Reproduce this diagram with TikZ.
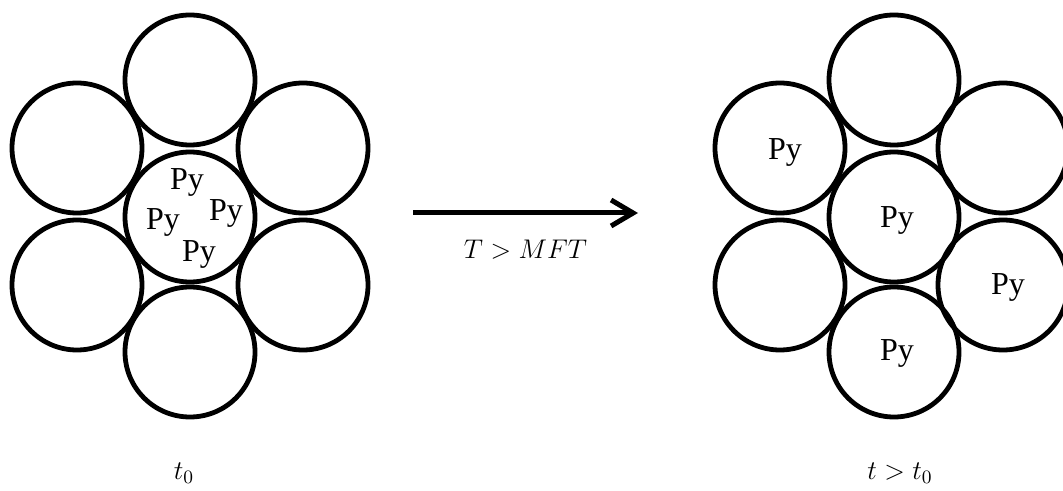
\RequirePackage{fix-cm}
\documentclass[tikz,border=0pt]{standalone}
\usepackage{fontspec}
\setmainfont{Liberation Serif}
\usetikzlibrary{arrows.meta, positioning}

\begin{document}
\begin{tikzpicture}[x=0.5pt, y=-0.5pt, >={Straight Barb[length=11pt, width=13pt]},
    pore/.style={draw, circle, line width=2.4pt, minimum size=65pt, inner sep=0pt},
    py/.style={font=\rmfamily\fontsize{16}{19}\selectfont, inner sep=0pt},
    lab/.style={font=\fontsize{13.5}{16}\selectfont}]
      \useasboundingbox (0,0) rectangle (1063,491);

      % before heating
      \node[pore] (l0) at (190,217) {};
      \node[pore] (l1) at (190,80) {};
      \node[pore] (l2) at (77,148) {};
      \node[pore] (l3) at (303,148) {};
      \node[pore] (l4) at (77,285) {};
      \node[pore] (l5) at (303,285) {};
      \node[pore] (l6) at (190,352) {};
      \node[py] at (187,182) {Py};
      \node[py] at (163,222) {Py};
      \node[py] at (226,213) {Py};
      \node[py] at (199,254) {Py};
      \node[lab] (tl) at (184,473) {$t_{0}$};

      % after heating
      \node[pore] (r0) at (894,217) {};
      \node[pore] (r1) at (894,80) {};
      \node[pore] (r2) at (780,148) {};
      \node[pore] (r3) at (1003,148) {};
      \node[pore] (r4) at (780,285) {};
      \node[pore] (r5) at (1003,285) {};
      \node[pore] (r6) at (894,352) {};
      \node[py] at (785,152) {Py};
      \node[py] at (897,220) {Py};
      \node[py] at (1008,287) {Py};
      \node[py] at (897,353) {Py};
      \node[lab] (tr) at (900,473) {$t > t_{0}$};

      \coordinate (a) at (413,213);
      \coordinate (b) at (638,213);
      \draw[->, line width=2.5pt] (a) -- (b)
        node[midway, below=9pt, lab] {$T > MFT$};
\end{tikzpicture}
\end{document}
